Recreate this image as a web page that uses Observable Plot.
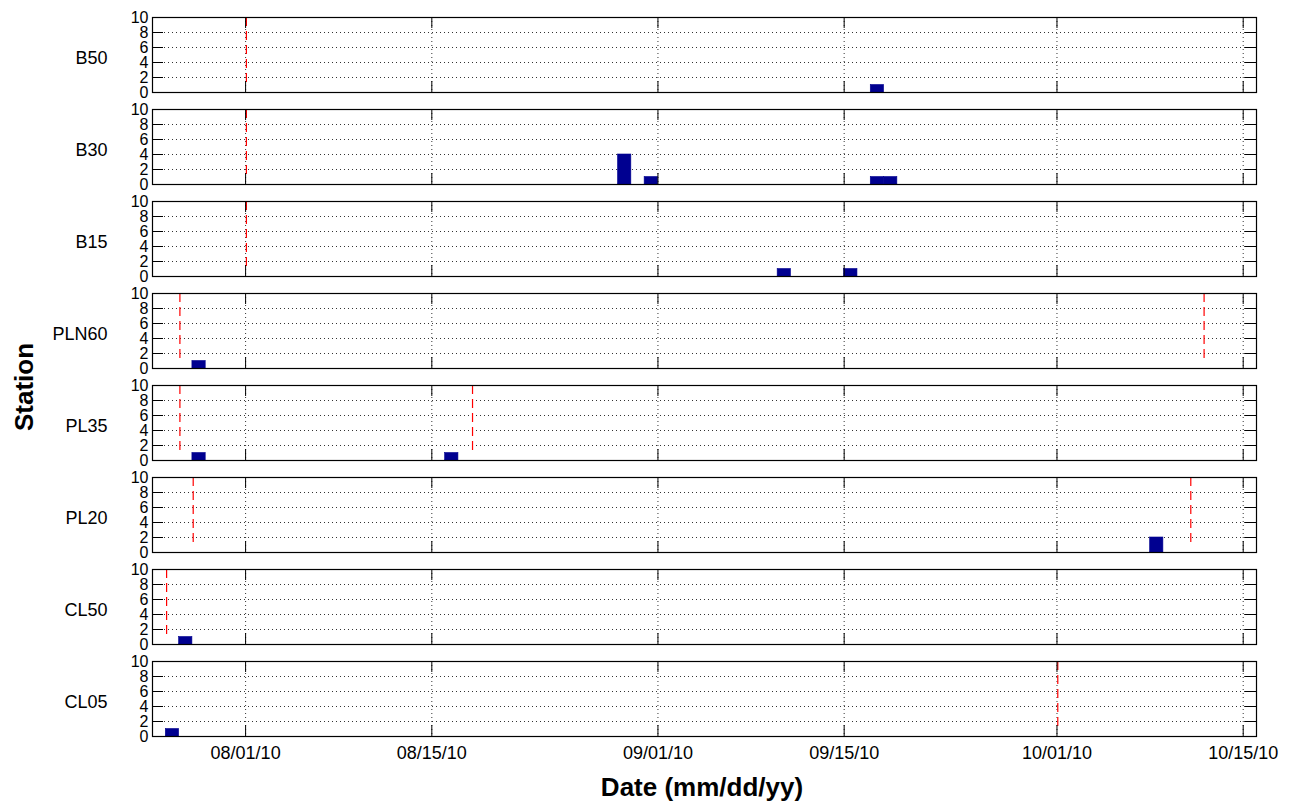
<!DOCTYPE html>
<html>
<head>
<meta charset="utf-8">
<script src="https://cdn.jsdelivr.net/npm/d3@7"></script>
<script src="https://cdn.jsdelivr.net/npm/@observablehq/plot@0.6"></script>
<style>
  body { margin: 0; background: #fff; }
  #wrap { position: relative; width: 1291px; height: 805px; font-family: "Liberation Sans", Arial, sans-serif; color: #000; }
  #wrap svg { position: absolute; left: 0; top: 0; }
  #ylab { position: absolute; left: 24px; top: 387px; transform: translate(-50%, -50%) rotate(-90deg); font-weight: bold; font-size: 26px; white-space: nowrap; }
  #xlab { position: absolute; left: 702px; top: 787px; transform: translate(-50%, -50%); font-weight: bold; font-size: 26px; white-space: nowrap; }
</style>
</head>
<body>
<div id="wrap">
  <div id="ylab">Station</div>
  <div id="xlab">Date (mm/dd/yy)</div>
</div>
<script>
// Stations (panels, top to bottom)
const stations = ["B50", "B30", "B15", "PLN60", "PL35", "PL20", "CL50", "CL05"];

// Daily counts (blue bars)
const barStations = ["B50", "B30", "B30", "B30", "B30", "B15", "B15", "PLN60", "PL35", "PL35", "PL20", "CL50", "CL05"];
const barDates = ["2010-09-17", "2010-08-29", "2010-08-31", "2010-09-17", "2010-09-18", "2010-09-10", "2010-09-15", "2010-07-28", "2010-07-28", "2010-08-16", "2010-10-08", "2010-07-27", "2010-07-26"];
const barCounts = [1, 4, 1, 1, 1, 1, 1, 1, 1, 1, 2, 1, 1];

// Red dashed marker lines
const markStations = ["B50", "B30", "B15", "PLN60", "PLN60", "PL35", "PL35", "PL20", "PL20", "CL50", "CL05"];
const markDates = ["2010-08-01", "2010-08-01", "2010-08-01", "2010-07-27", "2010-10-12", "2010-07-27", "2010-08-18", "2010-07-28", "2010-10-11", "2010-07-26", "2010-10-01"];
const markTop = 10, markBottom = 1;

// Axes
const yTicks = [0, 2, 4, 6, 8, 10];
const xTickLabels = ["08/01/10", "08/15/10", "09/01/10", "09/15/10", "10/01/10", "10/15/10"];
const xDomainDates = ["2010-07-25", "2010-10-16"];

const parseISO = d3.utcParse("%Y-%m-%d");
const parseTick = d3.utcParse("%m/%d/%y");
const fmtTick = d3.utcFormat("%m/%d/%y");
const xTicks = xTickLabels.map(parseTick);

const bars = barStations.map((s, i) => {
  const d = parseISO(barDates[i]);
  return { station: s, start: d, end: d3.utcDay.offset(d, 1), count: barCounts[i] };
});
const marks = markStations.map((s, i) => ({ station: s, date: parseISO(markDates[i]) }));

const font = "Liberation Sans, Arial, sans-serif";

const chart = Plot.plot({
  width: 1291,
  height: 805,
  marginLeft: 152,
  marginRight: 35,
  marginTop: 15,
  marginBottom: 67,
  style: { fontFamily: font, fontSize: "17px", color: "#000", background: "#fff" },
  x: { type: "utc", domain: xDomainDates.map(parseISO) },
  y: { domain: [0, 10] },
  fy: { domain: stations, paddingInner: 0.189, paddingOuter: 0 },
  marks: [
    Plot.gridY(yTicks, { stroke: "#000", strokeOpacity: 0.8, strokeDasharray: "1,3" }),
    Plot.gridX(xTicks, { stroke: "#000", strokeOpacity: 0.8, strokeDasharray: "1,3" }),
    Plot.rectY(bars, { x1: "start", x2: "end", y: "count", fy: "station", fill: "#000090", stroke: "#000090", strokeWidth: 0.6 }),
    Plot.ruleX(marks, { x: "date", fy: "station", y1: markTop, y2: markBottom, stroke: "#ff0000", strokeWidth: 1.2, strokeDasharray: "9,5", dx: 0.8 }),
    Plot.frame({ stroke: "#000", strokeWidth: 1.2 }),
    // inward ticks
    Plot.tickX(xTicks, { x: d => d, insetBottom: 64, stroke: "#000" }),
    Plot.tickX(xTicks, { x: d => d, insetTop: 64, stroke: "#000" }),
    Plot.tickY(yTicks, { y: d => d, insetRight: 1093, stroke: "#000" }),
    Plot.tickY(yTicks, { y: d => d, insetLeft: 1093, stroke: "#000" }),
    Plot.axisY({ ticks: yTicks, anchor: "left", tickSize: 0, tickPadding: 4, fontSize: 16, label: null }),
    Plot.axisX({ ticks: xTicks, anchor: "bottom", tickSize: 0, tickPadding: 10, tickFormat: fmtTick, fontSize: 18, label: null }),
    Plot.axisFy({ anchor: "left", tickSize: 0, tickPadding: 45, fontSize: 18, dy: 3, label: null })
  ]
});

document.getElementById("wrap").prepend(chart);
</script>
</body>
</html>
